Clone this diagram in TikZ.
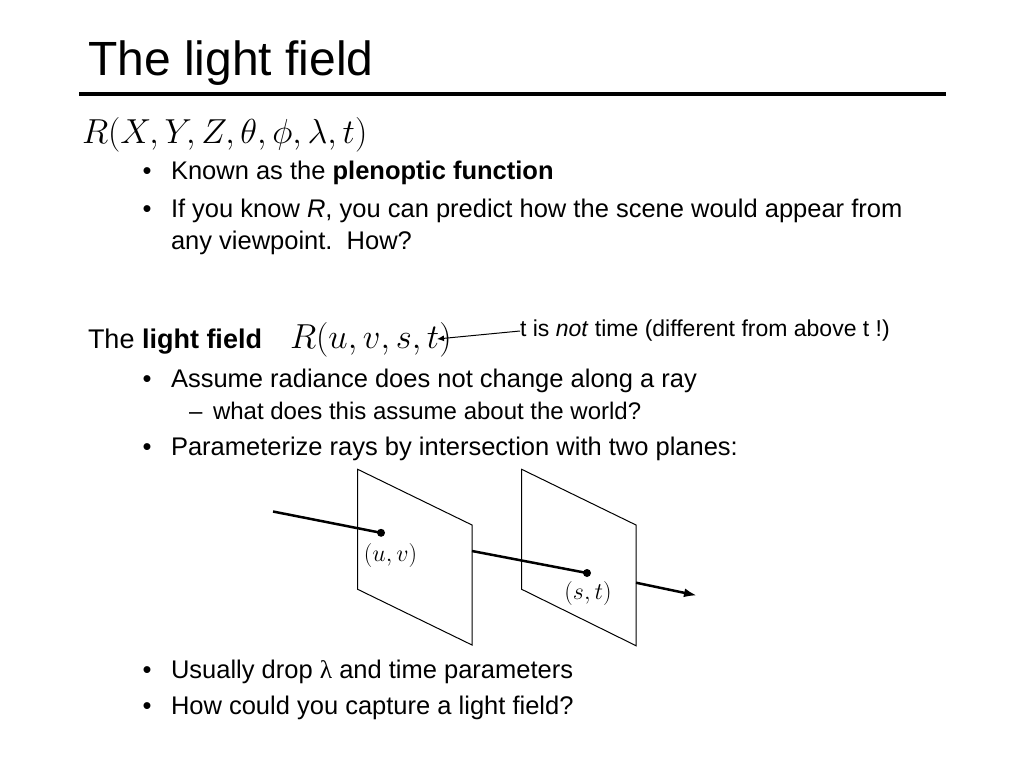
\RequirePackage{fix-cm}
\documentclass[tikz,border=0pt]{standalone}
\usepackage{amsmath}
\usepackage{fontspec}
\setmainfont{Liberation Sans}
\newfontfamily\symfont{Liberation Serif}
\usetikzlibrary{arrows.meta}

\begin{document}
\begin{tikzpicture}[x=1pt,y=-1pt]
  \tikzstyle{every node}=[inner sep=0pt,outer sep=0pt,anchor=base west]
  \tikzstyle{titletext}=[font=\fontsize{48}{56}\selectfont]
  \tikzstyle{headtext}=[font=\fontsize{27}{32}\selectfont]
  \tikzstyle{bodytext}=[font=\fontsize{25.5}{31}\selectfont]
  \tikzstyle{subtext}=[font=\fontsize{24}{28}\selectfont]
  \tikzstyle{notetext}=[font=\fontsize{23}{27}\selectfont]
  \tikzstyle{bigmath}=[font=\fontsize{34.7}{40}\selectfont]
  \tikzstyle{labelmath}=[font=\fontsize{24}{28}\selectfont,anchor=center]
  \tikzstyle{plane}=[line width=1pt]
  \tikzstyle{ray}=[line width=2.5pt]
  \tikzstyle{hit}=[circle,fill,minimum size=8pt,anchor=center]
  \useasboundingbox[fill=white] (0,0) rectangle (1024,768);

  % title and rule
  \node[titletext] (title) at (88,75) {The light field};
  \draw[line width=4pt] (79,93.5) -- (946,93.5);

  % plenoptic function
  \node[bigmath] (plen) at (82,143) {$R(X,Y,Z,\theta,\phi,\lambda,t)$};
  \node[bodytext] (b1) at (142.5,179) {•};
  \node[bodytext] (known) at (171,179) {Known as the \textbf{plenoptic function}};
  \node[bodytext] (b2) at (142.5,217) {•};
  \node[bodytext] (ifR) at (171,217) {If you know \textit{R}, you can predict how the scene would appear from};
  \node[bodytext] (ifR2) at (171,249) {any viewpoint.\ \ How?};

  % light field
  \node[headtext] (lf) at (88,348) {The \textbf{light field}};
  \node[bigmath] (lfmath) at (290,348) {$R(u,v,s,t)$};
  \node[notetext,anchor=west] (note) at (520,331) {t is \textit{not} time (different from above t !)};
  \coordinate (ttip) at (437,339);
  \draw[line width=1pt,-{Latex[length=7pt,width=6pt]}] (note.west) -- (ttip);

  \node[bodytext] (b3) at (142.5,387) {•};
  \node[bodytext] (assume) at (171,387) {Assume radiance does not change along a ray};
  \node[subtext] (d1) at (189,419) {–};
  \node[subtext] (world) at (213,419) {what does this assume about the world?};
  \node[bodytext] (b4) at (142.5,455) {•};
  \node[bodytext] (param) at (171,455) {Parameterize rays by intersection with two planes:};

  % two planes
  \coordinate (p1a) at (357.7,469.3);
  \coordinate (p1b) at (472,525);
  \coordinate (p1c) at (472,645);
  \coordinate (p1d) at (357.7,589.3);
  \coordinate (p2a) at (521.7,469.3);
  \coordinate (p2b) at (636,525);
  \coordinate (p2c) at (636,645.7);
  \coordinate (p2d) at (521.7,589.3);
  \draw[plane] (p1a) -- (p1b) -- (p1c) -- (p1d) -- cycle;
  \draw[plane] (p2a) -- (p2b) -- (p2c) -- (p2d) -- cycle;

  % the ray
  \coordinate (rayin) at (273,511.5);
  \node[hit] (uv) at (381,532.8) {};
  \coordinate (exit1) at (472,551);
  \node[hit] (st) at (587,573) {};
  \coordinate (exit2) at (636,582.7);
  \coordinate (rayout) at (697,595.5);
  \draw[ray] (rayin) -- (uv.center);
  \draw[ray] (exit1) -- (st.center);
  \draw[ray,-{Latex[length=13pt,width=9pt]}] (exit2) -- (rayout);
  \node[labelmath] (uvlabel) at (390.5,555) {$(u,v)$};
  \node[labelmath] (stlabel) at (588,593) {$(s,t)$};

  \node[bodytext] (b5) at (142.5,678) {•};
  \node[bodytext] (drop) at (171,678) {Usually drop {\symfont λ} and time parameters};
  \node[bodytext] (b6) at (142.5,714) {•};
  \node[bodytext] (capture) at (171,714) {How could you capture a light field?};
\end{tikzpicture}
\end{document}
